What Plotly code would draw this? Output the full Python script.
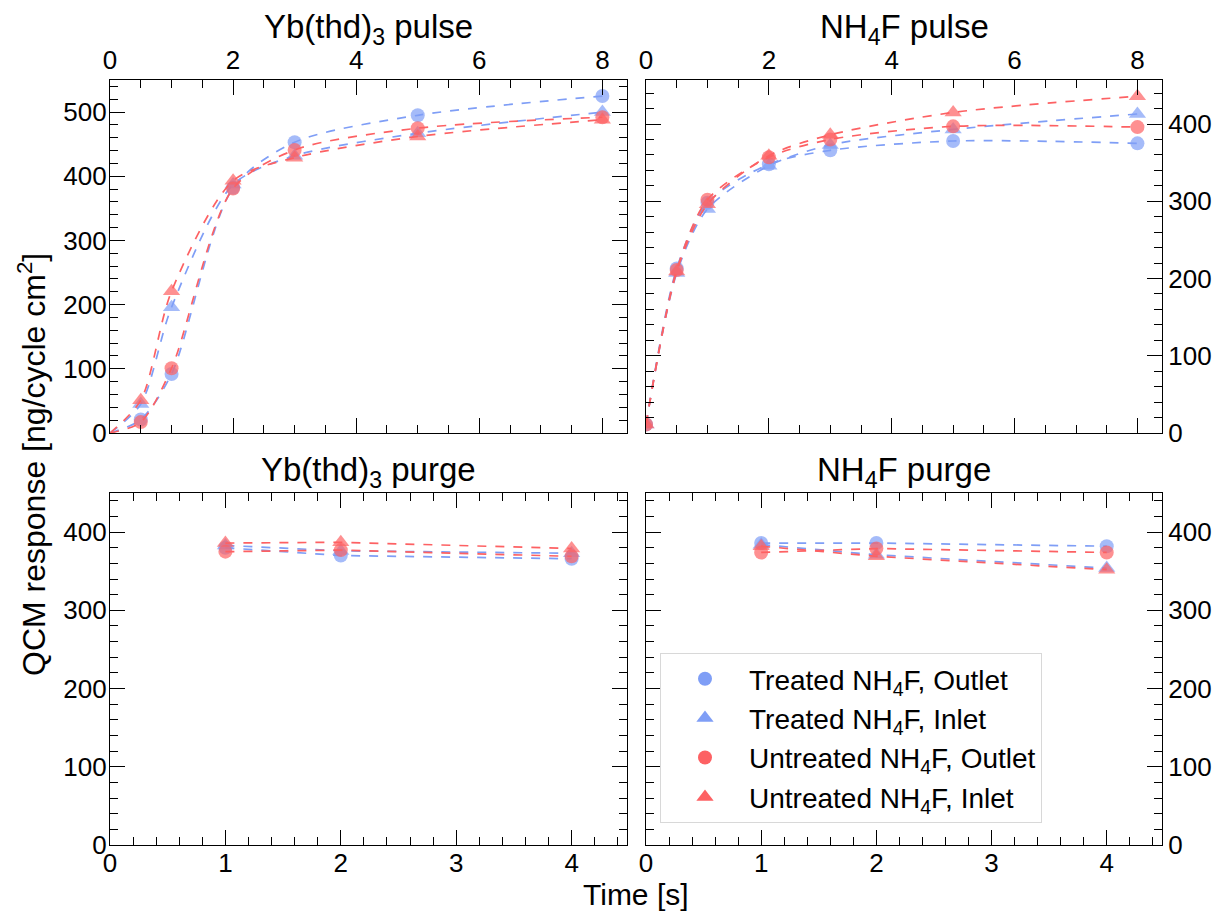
import plotly.graph_objects as go

# ---------------- data ----------------
# Yb(thd)3 pulse (top-left)
yb_pulse_t = [0, 0.5, 1, 2, 3, 5, 8]
yb_pulse_treated_outlet = [0, 21, 92, 382, 453, 495, 525]
yb_pulse_treated_inlet = [0, 45, 196, 387, 432, 467, 500]
yb_pulse_untreated_outlet = [0, 17, 101, 381, 441, 475, 492]
yb_pulse_untreated_inlet = [0, 51, 221, 393, 429, 462, 488]

# NH4F pulse (top-right)
nh_pulse_t = [0, 0.5, 1, 2, 3, 5, 8]
nh_pulse_treated_outlet = [11, 213, 298, 348, 366, 378, 375]
nh_pulse_treated_inlet = [11, 207, 290, 346, 373, 393, 413]
nh_pulse_untreated_outlet = [11, 211, 302, 357, 380, 397, 396]
nh_pulse_untreated_inlet = [11, 209, 296, 359, 386, 415, 436]

# Yb(thd)3 purge (bottom-left)
yb_purge_t = [1, 2, 4]
yb_purge_treated_outlet = [380, 370, 366]
yb_purge_treated_inlet = [383, 376, 373]
yb_purge_untreated_outlet = [375, 377, 369]
yb_purge_untreated_inlet = [386, 387, 379]

# NH4F purge (bottom-right)
nh_purge_t = [1, 2, 4]
nh_purge_treated_outlet = [386, 386, 382]
nh_purge_treated_inlet = [384, 371, 354]
nh_purge_untreated_outlet = [374, 379, 374]
nh_purge_untreated_inlet = [382, 369, 352]

series_names = ["Treated NH<sub>4</sub>F, Outlet", "Treated NH<sub>4</sub>F, Inlet",
                "Untreated NH<sub>4</sub>F, Outlet", "Untreated NH<sub>4</sub>F, Inlet"]
panel_titles = ["Yb(thd)<sub>3</sub> pulse", "NH<sub>4</sub>F pulse",
                "Yb(thd)<sub>3</sub> purge", "NH<sub>4</sub>F purge"]

BLUE = "#7f9ef6"
RED = "#fd6163"
colors = [BLUE, BLUE, RED, RED]
symbols = ["circle", "triangle-up", "circle", "triangle-up"]

FONT = "Liberation Sans, Arial, sans-serif"

fig = go.Figure()

W, H = 1215, 913
def xd(a, b):
    return [a / W, b / W]
def yd(top, bottom):
    return [(H - bottom) / H, (H - top) / H]

panels = [
    dict(xa="x", ya="y", t=yb_pulse_t,
         ys=[yb_pulse_treated_outlet, yb_pulse_treated_inlet, yb_pulse_untreated_outlet, yb_pulse_untreated_inlet],
         shape="spline", hide_first=True),
    dict(xa="x2", ya="y2", t=nh_pulse_t,
         ys=[nh_pulse_treated_outlet, nh_pulse_treated_inlet, nh_pulse_untreated_outlet, nh_pulse_untreated_inlet],
         shape="spline", hide_first=False),
    dict(xa="x3", ya="y3", t=yb_purge_t,
         ys=[yb_purge_treated_outlet, yb_purge_treated_inlet, yb_purge_untreated_outlet, yb_purge_untreated_inlet],
         shape="linear", hide_first=False),
    dict(xa="x4", ya="y4", t=nh_purge_t,
         ys=[nh_purge_treated_outlet, nh_purge_treated_inlet, nh_purge_untreated_outlet, nh_purge_untreated_inlet],
         shape="linear", hide_first=False),
]

CIRCLE_SIZE = 14
TRI_SIZE = 15

for pi, p in enumerate(panels):
    for si in range(4):
        n = len(p["t"])
        sizes = [CIRCLE_SIZE if symbols[si] == "circle" else TRI_SIZE] * n
        if p["hide_first"]:
            sizes[0] = 0
        fig.add_trace(go.Scatter(
            x=p["t"], y=p["ys"][si], xaxis=p["xa"], yaxis=p["ya"],
            mode="lines+markers", name=series_names[si],
            showlegend=False,
            line=dict(color=colors[si], width=1.7, dash="dash", shape=p["shape"], smoothing=0.8),
            marker=dict(color=colors[si], symbol=symbols[si], size=sizes, line=dict(width=0)),
        ))

# legend entries (markers only)
for si in range(4):
    fig.add_trace(go.Scatter(
        x=[None], y=[None], xaxis="x4", yaxis="y4", mode="markers",
        name=series_names[si], legendgroup="g%d" % si, showlegend=True,
        marker=dict(color=colors[si], symbol=symbols[si],
                    size=CIRCLE_SIZE if symbols[si] == "circle" else TRI_SIZE, line=dict(width=0)),
    ))

tickfont = dict(family=FONT, size=26, color="black")

def xaxis(domain, side, rng, dtick, minor_dtick, anchor, standoff=0):
    return dict(domain=domain, side=side, range=rng, dtick=dtick, tick0=0, anchor=anchor,
                automargin=False, ticklabelstandoff=standoff,
                showline=True, linecolor="black", linewidth=1.2, mirror="ticks",
                ticks="inside", ticklen=15, tickwidth=1.2, tickcolor="black",
                minor=dict(ticks="inside", ticklen=8, tickwidth=1, tickcolor="black", dtick=minor_dtick, showgrid=False),
                showgrid=False, zeroline=False, tickfont=tickfont)

def yaxis(domain, side, rng, anchor, standoff=0):
    return dict(domain=domain, side=side, range=rng, dtick=100, tick0=0, anchor=anchor,
                automargin=False, ticklabelstandoff=standoff,
                showline=True, linecolor="black", linewidth=1.2, mirror="ticks",
                ticks="inside", ticklen=15, tickwidth=1.2, tickcolor="black",
                minor=dict(ticks="inside", ticklen=8, tickwidth=1, tickcolor="black", dtick=20, showgrid=False),
                showgrid=False, zeroline=False, tickfont=tickfont)

top_y = yd(80, 433)
bot_y = yd(493, 845)
left_x = xd(110, 627)
right_x = xd(646, 1162)

fig.update_layout(
    width=W, height=H,
    margin=dict(l=0, r=0, t=0, b=0, autoexpand=False),
    paper_bgcolor="white", plot_bgcolor="white",
    font=dict(family=FONT, color="black"),
    xaxis=xaxis(left_x, "top", [0, 8.4], 2, 0.5, "y"),
    yaxis=yaxis(top_y, "left", [0, 550], "x", -3),
    xaxis2=xaxis(right_x, "top", [0, 8.4], 2, 0.5, "y2"),
    yaxis2=yaxis(top_y, "right", [0, 457], "x2"),
    xaxis3=xaxis(left_x, "bottom", [0, 4.48], 1, 0.2, "y3", -5),
    yaxis3=yaxis(bot_y, "left", [0, 450], "x3", -3),
    xaxis4=xaxis(right_x, "bottom", [0, 4.48], 1, 0.2, "y4", -5),
    yaxis4=yaxis(bot_y, "right", [0, 450], "x4"),
    legend=dict(x=660 / W, y=(H - 653) / H, xanchor="left", yanchor="top",
                bgcolor="rgba(255,255,255,0.85)", bordercolor="#d8d8d8", borderwidth=1,
                font=dict(family=FONT, size=28, color="black"),
                itemsizing="trace", tracegroupgap=12, itemwidth=78,
                traceorder="normal"),
    showlegend=True,
)

title_font = dict(family=FONT, size=33, color="black")
annots = [
    dict(text=panel_titles[0], x=(110 + 627) / 2 / W, y=(H - 29) / H),
    dict(text=panel_titles[1], x=(646 + 1162) / 2 / W, y=(H - 29) / H),
    dict(text=panel_titles[2], x=(110 + 627) / 2 / W, y=(H - 472) / H),
    dict(text=panel_titles[3], x=(646 + 1162) / 2 / W, y=(H - 472) / H),
]
for a in annots:
    fig.add_annotation(text=a["text"], x=a["x"], y=a["y"], xref="paper", yref="paper",
                       showarrow=False, xanchor="center", yanchor="middle", font=title_font)

fig.add_annotation(text="Time [s]", x=(110 + 1162) / 2 / W, y=(H - 894) / H, xref="paper", yref="paper",
                   showarrow=False, xanchor="center", yanchor="middle",
                   font=dict(family=FONT, size=30, color="black"))
fig.add_annotation(text="QCM response [ng/cycle cm<sup>2</sup>]", x=32 / W, y=(H - 465) / H,
                   xref="paper", yref="paper", showarrow=False, textangle=-90,
                   xanchor="center", yanchor="middle",
                   font=dict(family=FONT, size=32, color="black"))

fig.write_html("out.html", post_script="document.body.style.margin='0';document.body.style.overflow='hidden';")
